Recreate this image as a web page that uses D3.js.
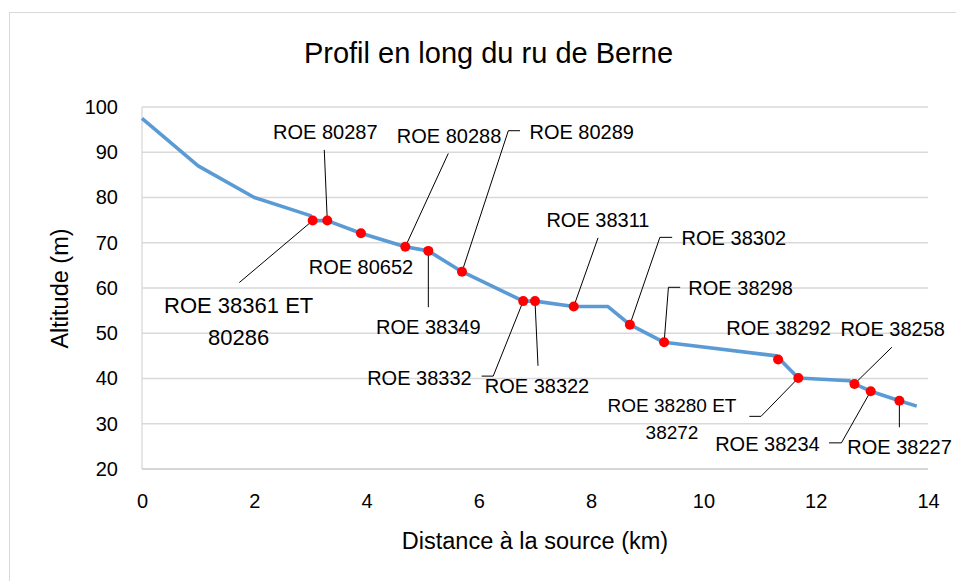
<!DOCTYPE html>
<html>
<head>
<meta charset="utf-8">
<script src="https://cdn.jsdelivr.net/npm/d3@7"></script>
<style>
  html, body { margin: 0; padding: 0; background: #fff; }
  svg text { font-family: "Liberation Sans", Arial, sans-serif; fill: #000; }
</style>
</head>
<body>
<svg id="chart" width="956" height="581"></svg>
<script>
// Longitudinal profile of the stream (distance from source in km, altitude in m)
const profileDist = [0, 1, 2, 3, 3.04, 3.3, 3.9, 4.69, 5.1, 5.7, 6.79, 7.0, 7.69, 8.3, 8.69, 9.3, 11.3, 11.69, 12.6, 12.69, 12.98, 13.49, 13.8];
const profileAlt  = [97.5, 87, 80, 76, 74.9, 74.9, 72.1, 69.1, 68.2, 63.6, 57.1, 57.1, 55.9, 55.9, 51.9, 48.0, 45.0, 40.1, 39.5, 38.8, 37.2, 35.1, 33.9];

// Obstacles (ROE references) along the stream
const roeNames = [
  ["ROE 38361 ET", "80286"], ["ROE 80287"], ["ROE 80652"], ["ROE 80288"],
  ["ROE 38349"], ["ROE 80289"], ["ROE 38332"], ["ROE 38322"],
  ["ROE 38311"], ["ROE 38302"], ["ROE 38298"], ["ROE 38292"],
  ["ROE 38280 ET", "38272"], ["ROE 38258"], ["ROE 38234"], ["ROE 38227"]
];
const roeDist = [3.04, 3.3, 3.9, 4.69, 5.1, 5.7, 6.79, 7.0, 7.69, 8.69, 9.3, 11.33, 11.69, 12.69, 12.98, 13.49];
const roeAlt  = [74.9, 74.9, 72.1, 69.1, 68.2, 63.6, 57.1, 57.1, 55.9, 51.9, 48.0, 44.2, 40.1, 38.8, 37.2, 35.1];

const xTicks = [0, 2, 4, 6, 8, 10, 12, 14];
const yTicks = [20, 30, 40, 50, 60, 70, 80, 90, 100];

// Label placement relative to each marker: text anchor offset, font size, leader polyline
const labelLayout = [
  { dx: -74, dy: 92, size: 22, lh: 32, leader: [[-73.4, 62]] },
  { dx: -2, dy: -81.4, size: 20, leader: [[-3, -70.7]] },
  { dx: 0, dy: 40.7, size: 20, leader: null },
  { dx: 43.7, dy: -103.4, size: 20, leader: [[43, -93.4]] },
  { dx: 0, dy: 83.3, size: 20, leader: [[0, 56.3]] },
  { dx: 119.7, dy: -132.4, size: 20, leader: [[46.3, -141], [58, -141]] },
  { dx: -103.8, dy: 84, size: 20, leader: [[-30, 75], [-41.6, 75]] },
  { dx: 2, dy: 91.7, size: 20, leader: [[3, 64.7]] },
  { dx: 24.2, dy: -79.3, size: 20, leader: [[24.3, -68.7]] },
  { dx: 104, dy: -80, size: 20, leader: [[30, -87.3], [42.3, -87.3]] },
  { dx: 76.5, dy: -47.3, size: 20, leader: [[4.3, -55], [16, -55]] },
  { dx: 0.5, dy: -24, size: 20, leader: null },
  { dx: -126.3, dy: 33.7, size: 19, lh: 27.3, leader: [[-37.3, 38.3], [-49, 38.3]] },
  { dx: 38.2, dy: -48.3, size: 20, leader: [[37.4, -36.7]] },
  { dx: -103.3, dy: 59.4, size: 20, leader: [[-29.3, 51.7], [-41.7, 51.7]] },
  { dx: 0.2, dy: 53.3, size: 20, leader: [[0, 26.6]] }
];

const svg = d3.select("#chart");
const plot = { left: 142, right: 928, top: 107, bottom: 469 };

const x = d3.scaleLinear().domain([0, 14]).range([plot.left, plot.right]);
const y = d3.scaleLinear().domain([20, 100]).range([plot.bottom, plot.top]);

// Chart frame
svg.append("rect")
  .attr("x", 9.5).attr("y", 12.5).attr("width", 960).attr("height", 600)
  .attr("fill", "#fff").attr("stroke", "#d9d9d9").attr("stroke-width", 1);

// Title
svg.append("text")
  .attr("x", 488.5).attr("y", 63)
  .attr("text-anchor", "middle")
  .style("font-size", "29px")
  .text("Profil en long du ru de Berne");

// Horizontal gridlines
svg.append("g")
  .selectAll("line")
  .data(yTicks.filter(v => v > 20))
  .join("line")
  .attr("x1", plot.left).attr("x2", plot.right)
  .attr("y1", d => y(d)).attr("y2", d => y(d))
  .attr("stroke", "#d9d9d9").attr("stroke-width", 1.3);

// Axis lines
svg.append("line")
  .attr("x1", plot.left).attr("x2", plot.left)
  .attr("y1", plot.top).attr("y2", plot.bottom)
  .attr("stroke", "#d9d9d9").attr("stroke-width", 1.3);
svg.append("line")
  .attr("x1", plot.left).attr("x2", plot.right)
  .attr("y1", plot.bottom).attr("y2", plot.bottom)
  .attr("stroke", "#c8c8c8").attr("stroke-width", 1.3);

// Y axis tick labels
const yAxis = d3.axisLeft(y).tickValues(yTicks).tickSize(0).tickPadding(24);
const yG = svg.append("g").attr("transform", `translate(${plot.left},0)`).call(yAxis);
yG.select(".domain").remove();
yG.selectAll("text").style("font-size", "20px").attr("fill", "#000")
  .style("font-family", '"Liberation Sans", Arial, sans-serif');

// X axis tick labels
const xAxis = d3.axisBottom(x).tickValues(xTicks).tickSize(0).tickPadding(25);
const xG = svg.append("g").attr("transform", `translate(0,${plot.bottom})`).call(xAxis);
xG.select(".domain").remove();
xG.selectAll("text").style("font-size", "20px").attr("fill", "#000")
  .style("font-family", '"Liberation Sans", Arial, sans-serif');

// Axis titles
svg.append("text")
  .attr("x", 535).attr("y", 549)
  .attr("text-anchor", "middle")
  .style("font-size", "23.5px")
  .text("Distance à la source (km)");
svg.append("text")
  .attr("transform", "translate(68,288.5) rotate(-90)")
  .attr("text-anchor", "middle")
  .style("font-size", "23.5px")
  .text("Altitude (m)");

// Profile line
const profile = profileDist.map((d, i) => ({ d, a: profileAlt[i] }));
svg.append("path")
  .datum(profile)
  .attr("fill", "none")
  .attr("stroke", "#5b9bd5")
  .attr("stroke-width", 3.6)
  .attr("stroke-linejoin", "round")
  .attr("d", d3.line().x(p => x(p.d)).y(p => y(p.a)));

// Obstacles
const roe = roeDist.map((d, i) => ({ d, a: roeAlt[i], name: roeNames[i], lay: labelLayout[i] }));

// Leader lines
svg.append("g")
  .selectAll("path")
  .data(roe.filter(r => r.lay.leader))
  .join("path")
  .attr("fill", "none")
  .attr("stroke", "#000")
  .attr("stroke-width", 1)
  .attr("d", r => {
    const cx = x(r.d), cy = y(r.a);
    const pts = [[cx, cy]].concat(r.lay.leader.map(([ox, oy]) => [cx + ox, cy + oy]));
    return d3.line()(pts);
  });

// Markers
svg.append("g")
  .selectAll("circle")
  .data(roe)
  .join("circle")
  .attr("cx", r => x(r.d))
  .attr("cy", r => y(r.a))
  .attr("r", 5)
  .attr("fill", "#ff0000");

// Labels
const labels = svg.append("g")
  .selectAll("text")
  .data(roe)
  .join("text")
  .attr("text-anchor", "middle")
  .style("font-size", r => r.lay.size + "px");
labels.each(function (r) {
  const cx = x(r.d) + r.lay.dx, cy = y(r.a) + r.lay.dy;
  d3.select(this).selectAll("tspan")
    .data(r.name)
    .join("tspan")
    .attr("x", cx)
    .attr("y", (t, i) => cy + i * (r.lay.lh || 0))
    .text(t => t);
});
</script>
</body>
</html>
